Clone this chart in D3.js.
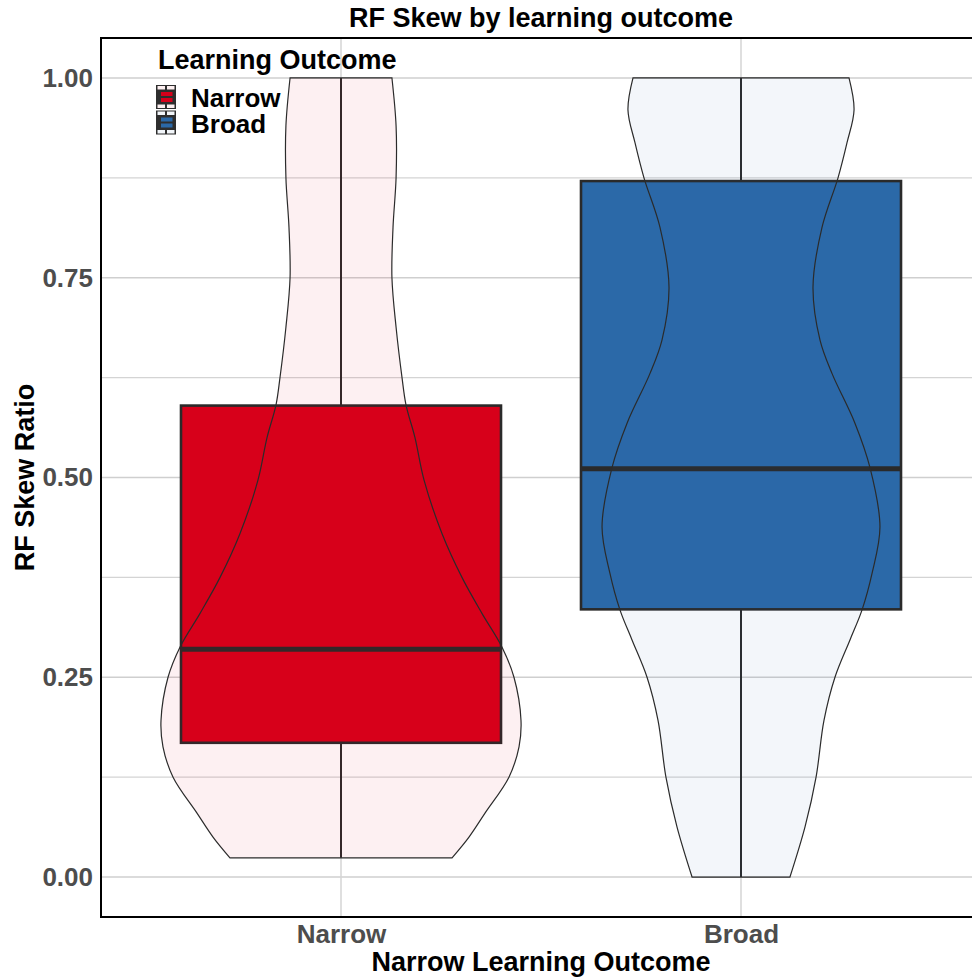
<!DOCTYPE html>
<html>
<head>
<meta charset="utf-8">
<script src="https://cdn.jsdelivr.net/npm/d3@7"></script>
<style>
  html, body { margin: 0; padding: 0; background: #ffffff; }
  svg { display: block; font-family: "Liberation Sans", Arial, sans-serif; }
</style>
</head>
<body>
<svg id="chart" width="972" height="978"></svg>
<script>
// Groups and their box-plot statistics (RF skew ratio)
const categories = ["Narrow", "Broad"];
const boxColors = ["#d7001a", "#2b69a8"];
const whiskerLow = [0.024, 0.0];
const q1 = [0.168, 0.335];
const median = [0.285, 0.511];
const q3 = [0.590, 0.871];
const whiskerHigh = [1.0, 1.0];

// Violin density profiles (relative width at each ratio value)
const narrowViolinY = [0.024, 0.05, 0.08, 0.125, 0.163, 0.196, 0.25, 0.288, 0.33, 0.375, 0.43, 0.497, 0.55, 0.591, 0.625, 0.688, 0.75, 0.813, 0.875, 0.94, 1.0];
const narrowViolinDensity = [0.617, 0.711, 0.8, 0.933, 0.989, 1.0, 0.961, 0.894, 0.783, 0.672, 0.561, 0.461, 0.411, 0.361, 0.339, 0.306, 0.283, 0.289, 0.306, 0.306, 0.283];
const broadViolinY = [0, 0.063, 0.125, 0.196, 0.25, 0.297, 0.334, 0.38, 0.438, 0.512, 0.568, 0.63, 0.672, 0.738, 0.813, 0.875, 0.919, 0.96, 1.0];
const broadViolinDensity = [0.272, 0.356, 0.417, 0.461, 0.522, 0.606, 0.672, 0.728, 0.772, 0.717, 0.633, 0.506, 0.439, 0.4, 0.45, 0.539, 0.589, 0.628, 0.6];

const yTicks = [0, 0.25, 0.5, 0.75, 1.0];
const yMinorTicks = [0.125, 0.375, 0.625, 0.875];
const yTickLabels = ["0.00", "0.25", "0.50", "0.75", "1.00"];

const titleText = "RF Skew by learning outcome";
const xTitle = "Narrow Learning Outcome";
const yTitle = "RF Skew Ratio";
const legendTitle = "Learning Outcome";

// Panel geometry
const panel = { left: 101, right: 981, top: 38, bottom: 917 };

const svg = d3.select("#chart");

const x = d3.scalePoint().domain(categories).range([panel.left, panel.right]).padding(0.6);
const step = x.step();
const y = d3.scaleLinear().domain([-0.05, 1.05]).range([panel.bottom, panel.top]);
const widthScale = d3.scaleLinear().domain([0, 1]).range([0, 0.45 * step]);

const violins = [
  { ys: narrowViolinY, ds: narrowViolinDensity },
  { ys: broadViolinY, ds: broadViolinDensity }
];

// Panel background
svg.append("rect")
  .attr("x", panel.left).attr("y", panel.top)
  .attr("width", panel.right - panel.left).attr("height", panel.bottom - panel.top)
  .attr("fill", "#ffffff");

// Grid lines
const grid = svg.append("g");
grid.selectAll("line.minor").data(yMinorTicks).join("line")
  .attr("x1", panel.left).attr("x2", panel.right)
  .attr("y1", d => y(d)).attr("y2", d => y(d))
  .attr("stroke", "#d4d4d4").attr("stroke-width", 1.2);
grid.selectAll("line.major").data(yTicks).join("line")
  .attr("x1", panel.left).attr("x2", panel.right)
  .attr("y1", d => y(d)).attr("y2", d => y(d))
  .attr("stroke", "#cfcfcf").attr("stroke-width", 1.5);
grid.selectAll("line.vert").data(categories).join("line")
  .attr("x1", d => x(d)).attr("x2", d => x(d))
  .attr("y1", panel.top).attr("y2", panel.bottom)
  .attr("stroke", "#d4d4d4").attr("stroke-width", 1.5);

// Box plots
const boxW = 0.8 * step;
const boxes = svg.append("g");
categories.forEach((c, i) => {
  const cx = x(c);
  const g = boxes.append("g");
  g.append("line").attr("x1", cx).attr("x2", cx)
    .attr("y1", y(whiskerHigh[i])).attr("y2", y(q3[i]))
    .attr("stroke", "#2a2a2a").attr("stroke-width", 2);
  g.append("line").attr("x1", cx).attr("x2", cx)
    .attr("y1", y(q1[i])).attr("y2", y(whiskerLow[i]))
    .attr("stroke", "#2a2a2a").attr("stroke-width", 2);
  g.append("rect")
    .attr("x", cx - boxW / 2).attr("y", y(q3[i]))
    .attr("width", boxW).attr("height", y(q1[i]) - y(q3[i]))
    .attr("fill", boxColors[i]).attr("stroke", "#2a2a2a").attr("stroke-width", 2.6);
  g.append("line").attr("x1", cx - boxW / 2).attr("x2", cx + boxW / 2)
    .attr("y1", y(median[i])).attr("y2", y(median[i]))
    .attr("stroke", "#2a2a2a").attr("stroke-width", 5);
});

// Violins (translucent, over the boxes)
const violinLayer = svg.append("g");
categories.forEach((c, i) => {
  const cx = x(c);
  const pts = violins[i].ys.map((v, k) => ({ v, d: violins[i].ds[k] }));
  const area = d3.area()
    .y(p => y(p.v))
    .x0(p => cx - widthScale(p.d))
    .x1(p => cx + widthScale(p.d))
    .curve(d3.curveCatmullRom);
  violinLayer.append("path")
    .attr("d", area(pts))
    .attr("fill", boxColors[i]).attr("fill-opacity", 0.06)
    .attr("stroke", "#2b2b2b").attr("stroke-width", 1.2);
});

// Panel border
svg.append("rect")
  .attr("x", panel.left).attr("y", panel.top)
  .attr("width", panel.right - panel.left).attr("height", panel.bottom - panel.top)
  .attr("fill", "none").attr("stroke", "#000000").attr("stroke-width", 2);

// Axes
const yAxis = d3.axisLeft(y).tickValues(yTicks)
  .tickFormat((d, i) => yTickLabels[i]).tickSize(0).tickPadding(8);
const yg = svg.append("g").attr("transform", `translate(${panel.left},0)`).call(yAxis);
yg.select(".domain").remove();
yg.selectAll("text")
  .attr("font-size", 26).attr("font-weight", "bold").attr("fill", "#4d4d4d")
  .attr("font-family", "Liberation Sans, Arial, sans-serif");

const xAxis = d3.axisBottom(x).tickSize(0).tickPadding(8);
const xg = svg.append("g").attr("transform", `translate(0,${panel.bottom})`).call(xAxis);
xg.select(".domain").remove();
xg.selectAll("text")
  .attr("font-size", 26).attr("font-weight", "bold").attr("fill", "#4d4d4d")
  .attr("font-family", "Liberation Sans, Arial, sans-serif");

// Titles
const midX = (panel.left + panel.right) / 2;
svg.append("text").attr("x", midX).attr("y", 27)
  .attr("text-anchor", "middle").attr("font-size", 27).attr("font-weight", "bold")
  .attr("fill", "#000").text(titleText);
svg.append("text").attr("x", midX).attr("y", 971)
  .attr("text-anchor", "middle").attr("font-size", 27).attr("font-weight", "bold")
  .attr("fill", "#000").text(xTitle);
svg.append("text")
  .attr("transform", `translate(34,${(panel.top + panel.bottom) / 2}) rotate(-90)`)
  .attr("text-anchor", "middle").attr("font-size", 27).attr("font-weight", "bold")
  .attr("fill", "#000").text(yTitle);

// Legend
const legend = svg.append("g");
legend.append("text").attr("x", 158).attr("y", 69)
  .attr("font-size", 27).attr("font-weight", "bold").attr("fill", "#000").text(legendTitle);

const paleColor = c => {
  const col = d3.color(c);
  const a = 0.06;
  return d3.rgb(255 + (col.r - 255) * a, 255 + (col.g - 255) * a, 255 + (col.b - 255) * a).formatHex();
};

categories.forEach((c, i) => {
  const kx = 156, ky = 85 + i * 25.5, kw = 20, kh = 24;
  const k = legend.append("g");
  k.append("rect").attr("x", kx).attr("y", ky).attr("width", kw).attr("height", kh)
    .attr("fill", "#2e2e2e");
  const pale = paleColor(boxColors[i]);
  // whisker ends (violin tint)
  [[ky + 1, 3.5], [ky + kh - 4.5, 3.5]].forEach(([yy, hh]) => {
    k.append("rect").attr("x", kx + 1.5).attr("y", yy).attr("width", 7.5).attr("height", hh).attr("fill", pale);
    k.append("rect").attr("x", kx + 11).attr("y", yy).attr("width", 7.5).attr("height", hh).attr("fill", pale);
  });
  // box halves split by the median
  k.append("rect").attr("x", kx + 5).attr("y", ky + 7).attr("width", 11.5).attr("height", 4).attr("fill", boxColors[i]);
  k.append("rect").attr("x", kx + 5).attr("y", ky + 13).attr("width", 11.5).attr("height", 4).attr("fill", boxColors[i]);
  legend.append("text").attr("x", 191).attr("y", ky + 22)
    .attr("font-size", 26).attr("font-weight", "bold").attr("fill", "#000").text(c);
});
</script>
</body>
</html>
